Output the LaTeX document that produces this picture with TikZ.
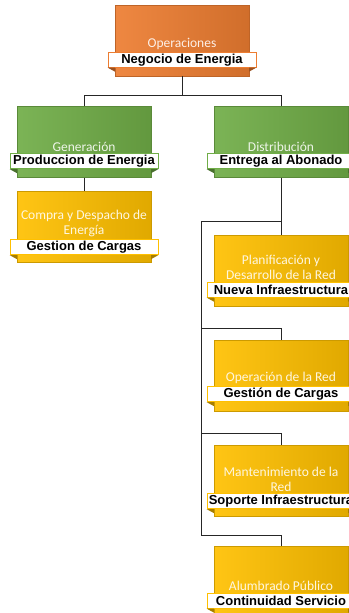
\documentclass[tikz,border=0pt]{standalone}
\usepackage{fontspec}
\setmainfont{Carlito}
\newfontfamily\tagfont{Liberation Sans}
\usetikzlibrary{positioning}

\definecolor{opsorange}{HTML}{ED7D31}
\definecolor{gengreen}{HTML}{70AD47}
\definecolor{subgold}{HTML}{FFC000}

\tikzset{
  unit/.style={minimum width=134pt, minimum height=71pt, inner sep=0pt,
    draw=#1!80!black, line width=0.4pt, left color=#1!92!white, right color=#1!88!black},
  unittitle/.style={text=white!88!#1, font=\fontsize{13.5}{15}\selectfont,
    align=center, inner sep=1pt},
  unittag/.style={draw=#1, line width=0.8pt, fill=white, minimum width=148pt,
    minimum height=15pt, inner sep=0pt, text=black,
    font=\tagfont\bfseries\fontsize{13}{14}\selectfont},
  conn/.style={line width=0.9pt, black!85},
  fold/.style={fill=#1!65!black}
}

\begin{document}
\begin{tikzpicture}[x=1pt,y=-1pt]
	\useasboundingbox (0,0) rectangle (348,613);

	% draw boxes
	\node[unit=opsorange] (ops) at (182,40.5) {};
	\node[unit=gengreen] (gen) at (84,142) {};
	\node[unit=gengreen] (dist) at (281,142) {};
	\node[unit=subgold] (compra) at (84,227) {};
	\node[unit=subgold] (plan) at (281,270.5) {};
	\node[unit=subgold] (oper) at (281,376) {};
	\node[unit=subgold] (mant) at (281,481) {};
	\node[unit=subgold] (alum) at (281,581.5) {};

	% draw tags
	\node[unittag=opsorange, below=47pt of ops.north] (opstag) {Negocio de Energia};
	\node[unittag=gengreen, below=47pt of gen.north] (gentag) {Produccion de Energia};
	\node[unittag=gengreen, below=47pt of dist.north] (disttag) {Entrega al Abonado};
	\node[unittag=subgold, below=48pt of compra.north] (compratag) {Gestion de Cargas};
	\node[unittag=subgold, below=47pt of plan.north] (plantag) {Nueva Infraestructura};
	\node[unittag=subgold, below=46pt of oper.north] (opertag) {Gestión de Cargas};
	\node[unittag=subgold, below=48pt of mant.north] (manttag) {Soporte Infraestructura};
	\node[unittag=subgold, below=47pt of alum.north] (alumtag) {Continuidad Servicio};

	% draw folds under the tags
	\foreach \b/\c in {ops/opsorange, gen/gengreen, dist/gengreen, compra/subgold,
	                   plan/subgold, oper/subgold, mant/subgold, alum/subgold} {
		\fill[fold=\c] (\b tag.south west) -- (\b tag.south west -| \b.west)
			-- ([yshift=-4pt]\b tag.south west -| \b.west) -- cycle;
		\fill[fold=\c] (\b tag.south east) -- (\b tag.south east -| \b.east)
			-- ([yshift=-4pt]\b tag.south east -| \b.east) -- cycle;
	}

	% draw titles
	\node[unittitle=opsorange, above=1pt of opstag] (opstitle) {Operaciones};
	\node[unittitle=gengreen, above=1pt of gentag] (gentitle) {Generación};
	\node[unittitle=gengreen, above=1pt of disttag] (disttitle) {Distribución};
	\node[unittitle=subgold, above=1pt of compratag] (compratitle) {Compra y Despacho de\\Energía};
	\node[unittitle=subgold, above=1pt of plantag] (plantitle) {Planificación y\\Desarrollo de la Red};
	\node[unittitle=subgold, above=1pt of opertag] (opertitle) {Operación de la Red};
	\node[unittitle=subgold, above=1pt of manttag] (manttitle) {Mantenimiento de la\\Red};
	\node[unittitle=subgold, above=1pt of alumtag] (alumtitle) {Alumbrado Público};

	% draw connectors
	\coordinate (topbus) at (182,95);
	\draw[conn] (ops.south) -- (topbus) -| (gen.north);
	\draw[conn] (topbus) -| (dist.north);
	\draw[conn] (gen.south) -- (compra.north);

	\coordinate (trunktop) at (201,221);
	\coordinate (trunkbot) at (201,535);
	\draw[conn] (dist.south) -- (plan.north);
	\draw[conn] (dist.south |- trunktop) -- (trunktop) -- (trunkbot) -| (alum.north);
	\coordinate (tapoper) at (201,328);
	\coordinate (tapmant) at (201,433);
	\draw[conn] (tapoper) -| (oper.north);
	\draw[conn] (tapmant) -| (mant.north);
\end{tikzpicture}
\end{document}
